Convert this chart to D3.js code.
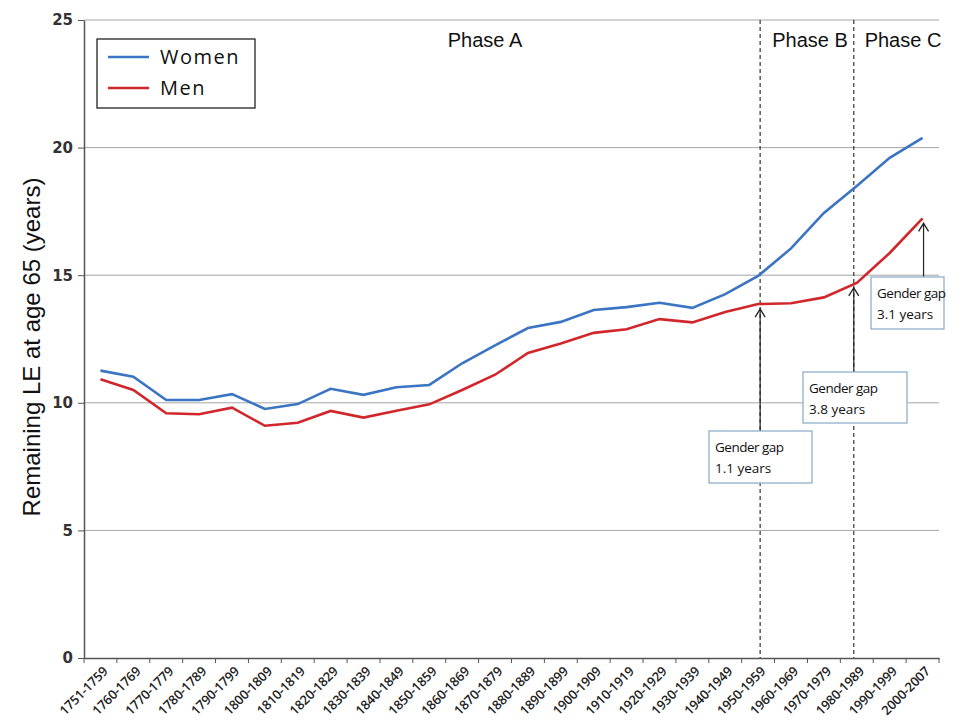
<!DOCTYPE html>
<html>
<head>
<meta charset="utf-8">
<script src="https://cdn.jsdelivr.net/npm/d3@7"></script>
<style>
  body { margin: 0; background: #fff; }
  svg { display: block; }
</style>
</head>
<body>
<svg id="chart" width="976" height="724"></svg>
<script>
const periods = ["1751-1759","1760-1769","1770-1779","1780-1789","1790-1799","1800-1809","1810-1819",
  "1820-1829","1830-1839","1840-1849","1850-1859","1860-1869","1870-1879","1880-1889","1890-1899",
  "1900-1909","1910-1919","1920-1929","1930-1939","1940-1949","1950-1959","1960-1969","1970-1979",
  "1980-1989","1990-1999","2000-2007"];
const women = [11.26,11.02,10.11,10.11,10.34,9.76,9.95,10.55,10.31,10.61,10.7,11.55,12.25,12.93,13.17,
  13.64,13.75,13.92,13.72,14.26,14.97,16.05,17.44,18.5,19.6,20.38];
const men = [10.92,10.5,9.59,9.55,9.81,9.1,9.22,9.68,9.42,9.69,9.94,10.5,11.1,11.95,12.32,
  12.74,12.88,13.28,13.15,13.56,13.87,13.9,14.13,14.7,15.87,17.23];
const yTicks = [0,5,10,15,20,25];
const phases = [{label:"Phase A", x: 485}, {label:"Phase B", x: 810}, {label:"Phase C", x: 903}];
// gap annotations: period at which the gap is measured, nudge of the arrow, box
const gaps = [
  {period:"1950-1959", dx: 2, text:"1.1 years", box:[709,431,103,52]},
  {period:"1980-1989", dx: -3, text:"3.8 years", box:[803,372,104,51]},
  {period:"2000-2007", dx: 1, text:"3.1 years", box:[871,277,73,52]}
];

const svg = d3.select("#chart");
const margin = {top: 20, right: 37, bottom: 66, left: 84};
const width = 976, height = 724;

const x = d3.scaleBand().domain(periods).range([margin.left, width - margin.right]);
const y = d3.scaleLinear().domain([0, 25]).range([height - margin.bottom, margin.top]);
const cx = d => x(d) + x.bandwidth() / 2;

// grid
svg.append("g")
  .selectAll("line").data(yTicks.filter(d => d > 0)).join("line")
  .attr("x1", margin.left).attr("x2", width - margin.right)
  .attr("y1", d => y(d)).attr("y2", d => y(d))
  .attr("stroke", "#a6a6a6").attr("stroke-width", 1);

// y axis
const yAxis = svg.append("g")
  .attr("transform", `translate(${margin.left},0)`)
  .call(d3.axisLeft(y).tickValues(yTicks).tickSize(6).tickSizeOuter(0));
yAxis.select(".domain").attr("stroke", "#555").attr("stroke-width", 1.5);
yAxis.selectAll(".tick line").attr("stroke", "#555");
yAxis.selectAll("text").attr("font-family", "DejaVu Sans").attr("font-size", 15)
  .attr("font-weight", "bold").attr("fill", "#333").attr("x", -11);

// x axis
const xAxis = svg.append("g")
  .attr("transform", `translate(0,${y(0)})`)
  .call(d3.axisBottom(x).tickSize(0).tickSizeOuter(0));
xAxis.select(".domain").attr("stroke", "#555").attr("stroke-width", 1.5);
xAxis.selectAll(".tick text")
  .attr("font-family", "Open Sans").attr("font-size", 13).attr("font-weight", 600).attr("fill", "#222")
  .attr("letter-spacing", -0.2)
  .attr("text-anchor", "end")
  .attr("transform", "translate(5,11) rotate(-45)")
  .attr("y", 0).attr("dy", "0.35em");
// band boundary ticks
svg.append("g").selectAll("line").data(periods.concat(["end"])).join("line")
  .attr("x1", (d, i) => x.range()[0] + i * x.bandwidth())
  .attr("x2", (d, i) => x.range()[0] + i * x.bandwidth())
  .attr("y1", y(0)).attr("y2", y(0) + 5)
  .attr("stroke", "#555");

// y title
svg.append("text")
  .attr("transform", `translate(40,${(margin.top + y(0)) / 2 + 8}) rotate(-90)`)
  .attr("text-anchor", "middle")
  .attr("font-family", "Liberation Sans").attr("font-size", 24).attr("fill", "#111")
  .text("Remaining LE at age 65 (years)");

// phase separators
svg.append("g").selectAll("line").data(gaps.slice(0, 2)).join("line")
  .attr("x1", d => cx(d.period) + d.dx).attr("x2", d => cx(d.period) + d.dx)
  .attr("y1", margin.top).attr("y2", y(0))
  .attr("stroke", "#333").attr("stroke-width", 1.2).attr("stroke-dasharray", "4,3");
svg.append("g").selectAll("text").data(phases).join("text")
  .attr("x", d => d.x).attr("y", 47).attr("text-anchor", "middle")
  .attr("font-family", "Liberation Sans").attr("font-size", 20).attr("fill", "#111")
  .text(d => d.label);

// lines
const line = d3.line().x((d, i) => cx(periods[i])).y(d => y(d));
svg.append("path").datum(women).attr("d", line)
  .attr("fill", "none").attr("stroke", "#3a74c2").attr("stroke-width", 2.6);
svg.append("path").datum(men).attr("d", line)
  .attr("fill", "none").attr("stroke", "#d1262b").attr("stroke-width", 2.6);

// annotations
const ann = svg.append("g").selectAll("g").data(gaps).join("g");
const ax = d => cx(d.period) + d.dx;
const tipY = d => y(men[periods.indexOf(d.period)]) + 5;
ann.append("line")
  .attr("x1", ax).attr("x2", ax)
  .attr("y1", d => d.box[1]).attr("y2", tipY)
  .attr("stroke", "#222").attr("stroke-width", 1.2);
ann.append("path")
  .attr("d", d => `M${ax(d) - 5},${tipY(d) + 8} L${ax(d)},${tipY(d)} L${ax(d) + 5},${tipY(d) + 8}`)
  .attr("fill", "none").attr("stroke", "#222").attr("stroke-width", 1.3);
ann.append("rect")
  .attr("x", d => d.box[0]).attr("y", d => d.box[1])
  .attr("width", d => d.box[2]).attr("height", d => d.box[3])
  .attr("fill", "#fff").attr("stroke", "#8fb0c8").attr("stroke-width", 1.3);
ann.append("text")
  .attr("x", d => d.box[0] + 6).attr("y", d => d.box[1] + 21)
  .attr("font-family", "Open Sans").attr("font-size", 13.5).attr("font-weight", 500)
  .attr("letter-spacing", -0.5).attr("fill", "#111")
  .text("Gender gap");
ann.append("text")
  .attr("x", d => d.box[0] + 6).attr("y", d => d.box[1] + 42)
  .attr("font-family", "Open Sans").attr("font-size", 13.5).attr("font-weight", 500)
  .attr("fill", "#111")
  .text(d => d.text);

// legend
const lg = svg.append("g");
lg.append("rect").attr("x", 97).attr("y", 39).attr("width", 158).attr("height", 69)
  .attr("fill", "#fff").attr("stroke", "#222").attr("stroke-width", 1.3);
const legendItems = [{label: "Women", color: "#3a74c2"}, {label: "Men", color: "#d1262b"}];
legendItems.forEach((d, i) => {
  const yy = 57 + i * 31;
  lg.append("line").attr("x1", 108).attr("x2", 149).attr("y1", yy).attr("y2", yy)
    .attr("stroke", d.color).attr("stroke-width", 2.6);
  lg.append("text").attr("x", 160).attr("y", yy + 7)
    .attr("font-family", "Open Sans").attr("font-size", 20).attr("letter-spacing", 1.5)
    .attr("fill", "#111").text(d.label);
});
</script>
</body>
</html>
